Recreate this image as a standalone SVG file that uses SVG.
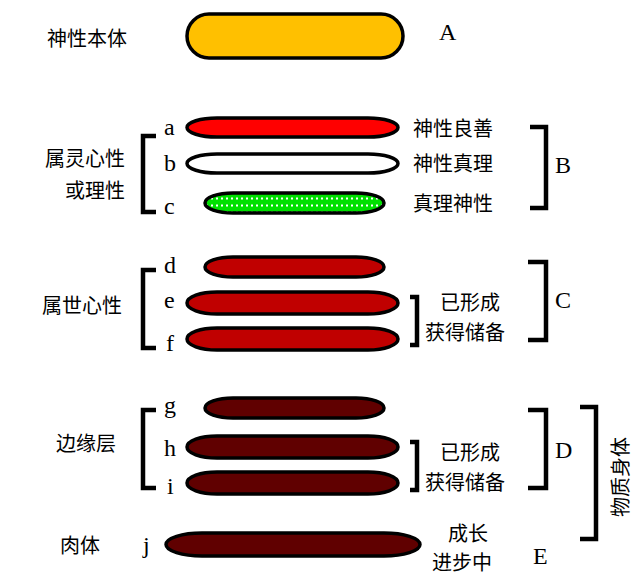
<svg xmlns="http://www.w3.org/2000/svg" width="634" height="577" viewBox="0 0 634 577">
<defs>
<pattern id="dots" x="0" y="196" width="5" height="7" patternUnits="userSpaceOnUse">
<rect x="1" y="1.5" width="2" height="2" fill="#ffffff"/>
</pattern>
<style>
.pill{stroke:#000;stroke-width:3.5}
.cn{font-family:"Liberation Serif","Noto Sans CJK SC",serif;font-size:20px;fill:#000}
.lt{font-family:"Liberation Serif","Noto Sans CJK SC",serif;font-size:24px;fill:#000}
.br{fill:none;stroke:#000;stroke-width:4.5}
</style>
</defs>
<rect width="634" height="577" fill="#fff"/>
<g id="labels">
<text class="cn" x="47" y="46">神性本体</text>
<text class="lt" x="439" y="40">A</text>
<text class="cn" x="125" y="166" text-anchor="end">属灵心性</text>
<text class="cn" x="125" y="198" text-anchor="end">或理性</text>
<text class="cn" x="122" y="313" text-anchor="end">属世心性</text>
<text class="cn" x="116" y="451" text-anchor="end">边缘层</text>
<text class="cn" x="60" y="553">肉体</text>
</g>
<g id="nodeA"><rect class="pill" x="187" y="14" width="216" height="44" rx="22" fill="#FFC000"/></g>
<g id="nodea"><rect class="pill" x="187" y="118" width="211" height="19" rx="30" ry="9.5" fill="#FF0000"/><text class="lt" x="164" y="135">a</text><text class="cn" x="413" y="136">神性良善</text></g>
<g id="nodeb"><rect class="pill" x="187" y="154" width="211" height="19" rx="30" ry="9.5" fill="#FFFFFF"/><text class="lt" x="164" y="171">b</text><text class="cn" x="413" y="171">神性真理</text></g>
<g id="nodec"><rect x="205" y="193" width="179" height="20" rx="28" ry="10" fill="#00E000"/><rect class="pill" x="205" y="193" width="179" height="20" rx="28" ry="10" fill="url(#dots)"/><text class="lt" x="164" y="214">c</text><text class="cn" x="413" y="211">真理神性</text></g>
<g id="noded"><rect class="pill" x="205" y="257" width="179" height="20" rx="28" ry="10" fill="#C00000"/><text class="lt" x="164" y="273">d</text></g>
<g id="nodee"><rect class="pill" x="187" y="292" width="211" height="22" rx="30" ry="11" fill="#C00000"/><text class="lt" x="164" y="308">e</text></g>
<g id="nodef"><rect class="pill" x="187" y="328" width="211" height="22" rx="30" ry="11" fill="#C00000"/><text class="lt" x="166" y="351">f</text></g>
<g id="nodeg"><rect class="pill" x="205" y="398" width="179" height="20" rx="28" ry="10" fill="#600000"/><text class="lt" x="164" y="413">g</text></g>
<g id="nodeh"><rect class="pill" x="187" y="436" width="211" height="22" rx="30" ry="11" fill="#600000"/><text class="lt" x="164" y="456">h</text></g>
<g id="nodei"><rect class="pill" x="187" y="472" width="211" height="22" rx="30" ry="11" fill="#600000"/><text class="lt" x="167" y="494">i</text></g>
<g id="nodej"><rect class="pill" x="166" y="533" width="254" height="23" rx="36" ry="11.5" fill="#600000"/><text class="lt" x="143" y="553">j</text></g>
<g id="connectors">
<path class="br" d="M156,136 H143 V212 H156"/>
<path class="br" d="M530,127 H546 V208 H530"/>
<path class="br" d="M156,270 H143 V348 H156"/>
<path class="br" d="M410,297 H417 V345 H410"/>
<path class="br" d="M528,262 H546 V340 H528"/>
<path class="br" d="M156,410 H143 V488 H156"/>
<path class="br" d="M410,442 H417 V490 H410"/>
<path class="br" d="M528,410 H546 V488 H528"/>
<path class="br" d="M580,407 H596 V539 H580"/>
</g>
<g id="rightlabels">
<text class="lt" x="555" y="173">B</text>
<text class="cn" x="440" y="310">已形成</text>
<text class="cn" x="425" y="340">获得储备</text>
<text class="lt" x="555" y="308">C</text>
<text class="cn" x="440" y="460">已形成</text>
<text class="cn" x="425" y="490">获得储备</text>
<text class="lt" x="555" y="458">D</text>
<text class="cn" x="0" y="0" transform="translate(628,477) rotate(-90)" text-anchor="middle">物质身体</text>
<text class="cn" x="448" y="541">成长</text>
<text class="cn" x="432" y="570">进步中</text>
<text class="lt" x="533" y="564">E</text>
</g>
</svg>
